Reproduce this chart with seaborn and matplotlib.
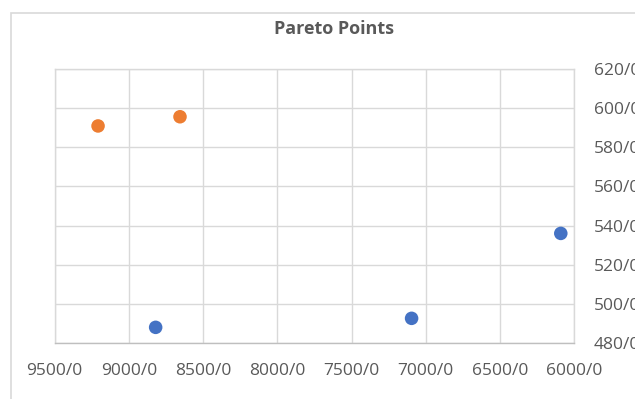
import matplotlib
matplotlib.use("Agg")
import matplotlib.pyplot as plt
import matplotlib.patches as mpatches
import seaborn as sns
import pandas as pd

sns.set_theme(style="white")
plt.rcParams['font.family'] = ['Open Sans', 'DejaVu Sans']

# Data
series = ["A", "A", "B", "B", "B"]
x_vals = [9208, 8656, 8820, 7096, 6091]
y_vals = [590.9, 595.6, 488.0, 492.6, 536.0]
x_ticks = [9500, 9000, 8500, 8000, 7500, 7000, 6500, 6000]
x_labels = ["9500/0", "9000/0", "8500/0", "8000/0", "7500/0", "7000/0", "6500/0", "6000/0"]
y_ticks = [480, 500, 520, 540, 560, 580, 600, 620]
y_labels = ["480/0", "500/0", "520/0", "540/0", "560/0", "580/0", "600/0", "620/0"]
title = "Pareto Points"

df = pd.DataFrame({"x": x_vals, "y": y_vals, "s": series})

W, H = 635, 399
fig = plt.figure(figsize=(W / 100, H / 100), dpi=100)
ax = fig.add_axes([54.7 / W, 1 - 343 / H, (574.3 - 54.7) / W, (343 - 69) / H])

# chart border
fig.patches.append(mpatches.Rectangle((11 / W, -0.1), 1.2, 1 - 13 / H + 0.1,
                                      transform=fig.transFigure, fill=False,
                                      edgecolor="#D9D9D9", linewidth=1.2, zorder=0))

sns.scatterplot(data=df, x="x", y="y", hue="s", palette={"A": "#ED7D31", "B": "#4472C4"},
                s=95, edgecolor="none", legend=False, ax=ax, zorder=3)

ax.set_xlim(9500, 6000)
ax.set_ylim(480, 620)
ax.set_xticks(x_ticks)
ax.set_xticklabels(x_labels)
ax.set_yticks(y_ticks)
ax.set_yticklabels(y_labels)
ax.yaxis.tick_right()
ax.tick_params(axis="both", length=0, labelsize=12.5, labelcolor="#595959")
ax.tick_params(axis="x", pad=14.5)
ax.tick_params(axis="y", pad=14)
ax.grid(True, color="#D9D9D9", linewidth=1)
ax.set_axisbelow(True)
for side, sp in ax.spines.items():
    sp.set_visible(True)
    sp.set_color("#D9D9D9")
    sp.set_linewidth(1)
ax.spines["bottom"].set_color("#BFBFBF")
ax.set_xlabel("")
ax.set_ylabel("")

fig.text(334 / W, 1 - 29 / H, title, ha="center", va="center", fontsize=13,
         fontweight="bold", color="#595959")

fig.savefig("out.png", dpi=100)
